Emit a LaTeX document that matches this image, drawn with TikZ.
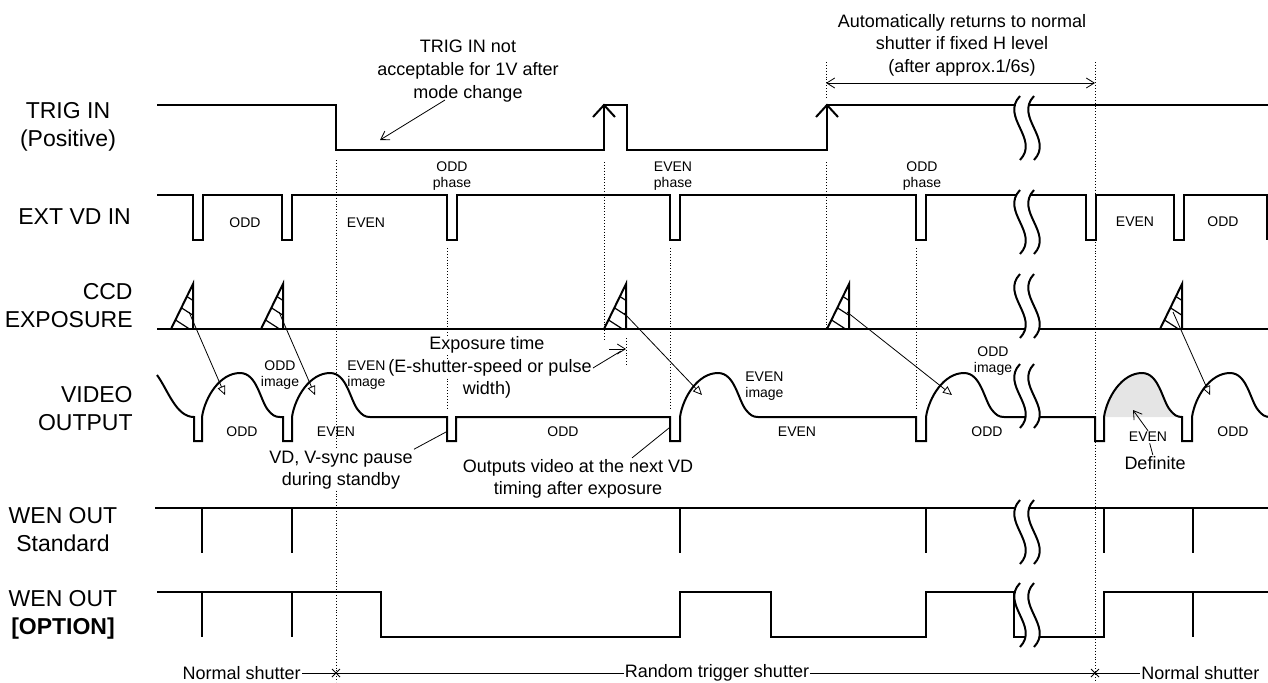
\documentclass[tikz,border=0pt]{standalone}
\usepackage{fontspec}
\setmainfont{Liberation Sans}
\usetikzlibrary{arrows.meta}

% waveform pieces
\newcommand{\vdpulse}[1]{-- (#1,195) -- (#1,240) -- ++(10,0) -- ++(0,-45)}
\newcommand{\vidpulse}[2]{-- (#1,417) -- (#1,441) -- ++(#2,0) -- ++(0,-24)}
\newcommand{\vidhump}{.. controls +(3,-20) and +(-20,0) .. ++(38,-44) .. controls +(17,0) and +(-8,-10) .. ++(28,37) .. controls +(4,5) and +(-5,0) .. ++(12,7)}
\newcommand{\brkmark}[1]{%
  \fill[white] (1020,#1) .. controls +(-20,21) and +(20,-21) .. (1020,{#1+64}) -- (1034,{#1+64}) .. controls +(20,-21) and +(-20,21) .. (1034,#1) -- cycle;
  \draw[sig] (1020,#1) .. controls +(-20,21) and +(20,-21) .. (1020,{#1+64}) (1034,#1) .. controls +(-20,21) and +(20,-21) .. (1034,{#1+64});}

\begin{document}
\begin{tikzpicture}[x=0.5pt,y=-0.5pt,
  sig/.style={line width=1pt},
  guide/.style={densely dotted,line width=0.45pt},
  hatch/.style={line width=0.6pt},
  ptr/.style={line width=0.4pt,-{Straight Barb[length=4pt,width=5pt]}},
  dptr/.style={line width=0.4pt,{Straight Barb[length=4pt,width=5pt]}-{Straight Barb[length=4pt,width=5pt]}},
  optr/.style={line width=0.4pt,-{Triangle[open,length=4.5pt,width=4pt]}},
  lbl/.style={font=\fontsize{11.5}{14}\selectfont,align=center,inner sep=0pt},
  note/.style={font=\fontsize{9}{11.3}\selectfont,align=center,inner sep=0.5pt},
  tiny/.style={font=\fontsize{7}{7.8}\selectfont,align=center,inner sep=0.5pt}]
  \useasboundingbox (0,0) rectangle (1268,682);

  % Signal names
  \node[lbl] (trig) at (68,127) {TRIG IN\\(Positive)};
  \node[lbl,anchor=west] (vdin) at (18,217) {EXT VD IN};
  \node[lbl,align=right,anchor=east] (ccd) at (133,306) {CCD\\EXPOSURE};
  \node[lbl,align=right,anchor=east] (vout) at (133,409) {VIDEO\\OUTPUT};
  \node[lbl] (wstd) at (63,530) {WEN OUT\\Standard};
  \node[lbl] (wopt) at (63,615) {WEN OUT\\\textbf{[OPTION]}};

  % Timing guides
  \draw[guide] (336,160) -- (336,682);
  \draw[guide] (447,248) -- (447,410);
  \draw[guide] (604,162) -- (604,340);
  \draw[guide] (626,338) -- (626,365);
  \draw[guide] (670,248) -- (670,408);
  \draw[guide] (826,62) -- (826,97) (826,162) -- (826,329);
  \draw[guide] (916,248) -- (916,410);
  \draw[guide] (1095,62) -- (1095,682);

  % TRIG IN
  \draw[sig] (157,105) -- (336,105) -- (336,150) -- (604,150) -- (604,105) -- (627,105)
    -- (627,150) -- (827,150) -- (827,105) -- (1268,105);
  \draw[sig] (593,117) -- (604,105) -- (615,117) (816,117) -- (827,105) -- (838,117);

  % EXT VD IN
  \draw[sig] (157,195) \vdpulse{193} \vdpulse{282} \vdpulse{447} \vdpulse{670} \vdpulse{916}
    \vdpulse{1086} \vdpulse{1174} -- (1267,195) -- (1267,240);

  % CCD exposure
  \draw[sig] (157,329) -- (1268,329);
  \foreach \a in {193,283,626,849,1182} {
    \begin{scope}
      \clip (\a-22,329) -- (\a,284) -- (\a,329) -- cycle;
      \foreach \t in {0.2,0.47,0.72}
        \draw[hatch] ({\a-42+22*\t},{316-45*\t}) -- ++(45,29);
    \end{scope}
    \draw[sig] (\a-22,329) -- (\a,284) -- (\a,329);
  }

  % Video output
  \fill[black!10] (1104,417) \vidhump -- cycle;
  \draw[sig] (157,375) .. controls (168,390) and (176,417) .. (194,417)
    \vidpulse{194}{8} \vidhump
    \vidpulse{283}{9} \vidhump
    \vidpulse{447}{9}
    \vidpulse{670}{10} \vidhump
    \vidpulse{916}{10} \vidhump
    \vidpulse{1095}{9} \vidhump
    \vidpulse{1182}{10} \vidhump;

  % WEN OUT
  \draw[sig] (155,508) -- (1268,508);
  \foreach \x in {202,292,680,926,1104,1193}
    \draw[sig] (\x,508) -- (\x,553);
  \draw[sig] (157,592) -- (381,592) -- (381,637) -- (680,637) -- (680,592) -- (771,592)
    -- (771,637) -- (926,637) -- (926,592) -- (1014,592) -- (1014,637) -- (1104,637)
    -- (1104,592) -- (1268,592);
  \foreach \x in {202,292,1193}
    \draw[sig] (\x,592) -- (\x,637);

  % Time breaks
  \brkmark{96} \brkmark{190} \brkmark{274} \brkmark{364} \brkmark{500} \brkmark{583}

  % Field names
  \node[tiny] (f1) at (245,223) {ODD};
  \node[tiny] (f2) at (366,223) {EVEN};
  \node[tiny] (f3) at (1135,222) {EVEN};
  \node[tiny] (f4) at (1223,222) {ODD};
  \node[tiny] (ph1) at (452,176) {ODD\\phase};
  \node[tiny] (ph2) at (673,176) {EVEN\\phase};
  \node[tiny] (ph3) at (922,176) {ODD\\phase};
  \node[tiny] (v1) at (242,432) {ODD};
  \node[tiny] (v2) at (336,432) {EVEN};
  \node[tiny] (v3) at (563,432) {ODD};
  \node[tiny] (v4) at (797,432) {EVEN};
  \node[tiny] (v5) at (987,432) {ODD};
  \node[tiny] (v6) at (1233,432) {ODD};
  \node[tiny] (im1) at (280,375) {ODD\\image};
  \node[tiny,align=left,anchor=west] (im2) at (346,375) {EVEN\\image};
  \node[tiny,align=left,anchor=west] (im3) at (744,386) {EVEN\\image};
  \node[tiny] (im4) at (993,361) {ODD\\image};

  % Exposure to image
  \foreach \sx/\sy/\ex/\ey [count=\i] in {189/312/225/395, 279/312/315/395,
      624/313/702/395, 847/312/952/395, 1173/312/1210/395} {
    \coordinate (exp\i) at (\sx,\sy);
    \coordinate (img\i) at (\ex,\ey);
    \draw[optr] (exp\i) -- (img\i);
  }

  % Notes
  \node[note] (nacc) at (468,71) {TRIG IN not\\acceptable for 1V after\\mode change};
  \coordinate (acc1) at (445,100);
  \coordinate (acc2) at (380,140);
  \draw[ptr] (acc1) -- (acc2);

  \node[note] (nauto) at (962,45) {Automatically returns to normal\\shutter if fixed H level\\(after approx.1/6s)};
  \coordinate (au1) at (826,83);
  \coordinate (au2) at (1095,83);
  \draw[dptr] (au1) -- (au2);

  \node[note,fill=white] (nexp) at (487,345) {Exposure time};
  \node[note,fill=white] (nesh) at (490,368) {(E-shutter-speed or pulse};
  \node[note,fill=white] (nwid) at (487,390) {width)};
  \coordinate (xs) at (609,349);
  \coordinate (xe) at (626,349);
  \coordinate (xl) at (621,351);
  \draw[ptr] (xs) -- (xe);
  \draw[line width=0.4pt] (nesh.east) -- (xl);

  \node[note,fill=white] (npause) at (341,470) {VD, V-sync pause\\during standby};
  \coordinate (vd1) at (446,432);
  \draw[line width=0.4pt] (npause.north east) -- (vd1);

  \node[note] (nout) at (578,479) {Outputs video at the next VD\\timing after exposure};
  \coordinate (vd2) at (669,428);
  \draw[line width=0.4pt] (nout.north) ++(54,0) -- (vd2);

  \node[tiny] (dev) at (1148,437) {EVEN};
  \node[note] (def) at (1155,463) {Definite};
  \coordinate (defn) at (1133,410);
  \draw[ptr] (dev.north) -- (defn);
  \draw[line width=0.4pt] (dev) -- (def);

  % Shutter modes
  \node[note,anchor=east] (norm1) at (302,673) {Normal shutter};
  \node[note] (rand) at (717,673) {Random trigger shutter};
  \node[note,anchor=west] (norm2) at (1140,673) {Normal shutter};
  \coordinate (m1) at (336,673);
  \coordinate (m2) at (1095,673);
  \draw[line width=0.4pt] (norm1.east) -- (m1) -- (rand.west) (rand.east) -- (m2) -- (norm2.west);
  \draw[line width=0.4pt] (m1) +(-4,-4) -- +(4,4) +(-4,4) -- +(4,-4)
    (m2) +(-4,-4) -- +(4,4) +(-4,4) -- +(4,-4);
\end{tikzpicture}
\end{document}
